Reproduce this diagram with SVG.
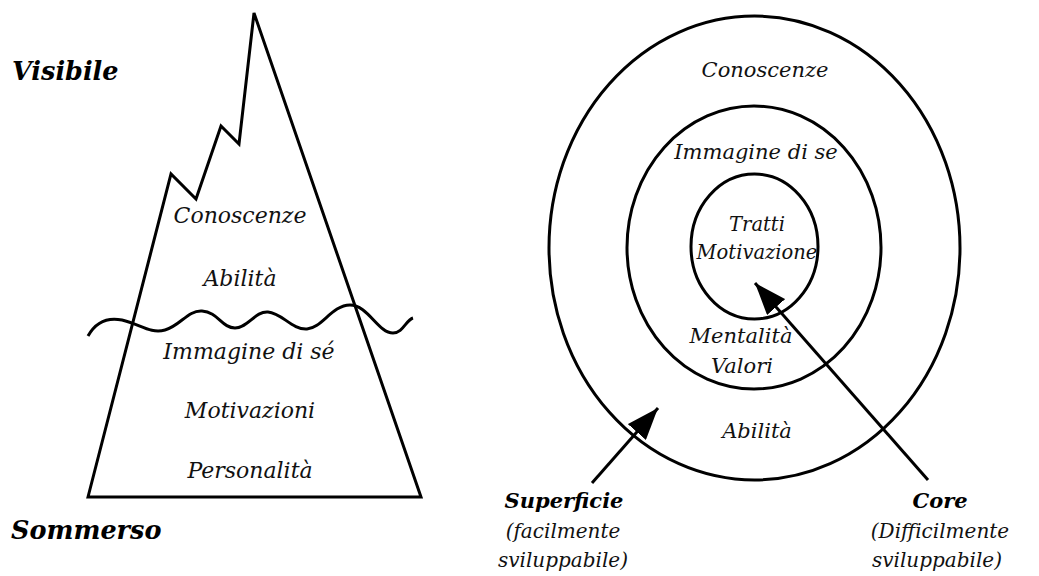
<svg xmlns="http://www.w3.org/2000/svg" width="1039" height="576" viewBox="0 0 1039 576">
<defs>
<style>
.ln{fill:none;stroke:#000;stroke-width:3;stroke-linejoin:miter}
.t{font-family:"DejaVu Serif","Liberation Serif",serif;font-style:italic;font-size:21px;fill:#111;text-anchor:middle}
.ti{font-size:22px}
.h{font-family:"DejaVu Serif","Liberation Serif",serif;font-style:italic;font-weight:bold;font-size:25.5px;fill:#000}
.hb{font-family:"DejaVu Serif","Liberation Serif",serif;font-style:italic;font-weight:bold;font-size:21px;fill:#000;text-anchor:middle}
</style>
<marker id="ah2" viewBox="0 0 32 24" refX="32" refY="12" markerWidth="32" markerHeight="24" markerUnits="userSpaceOnUse" orient="auto">
<path d="M0,0 L32,12 L0,24 Z" fill="#000"/>
</marker>
</defs>
<rect width="1039" height="576" fill="#fff"/>
<g id="iceberg">
<path class="ln" d="M88,497 L171,174 L196,199 L221,126 L239,144 L254,13 L421,497 Z"/>
<path id="water" class="ln" d="M88,336 C98,318 112,318 122,320 C140,324 150,334 165,330 C180,326 188,310 202,311 C218,312 222,328 235,328 C248,328 255,311 268,312 C282,313 292,330 307,329 C322,328 332,305 350,305 C368,305 378,333 393,333 C403,333 406,320 413,318"/>
</g>
<g id="label-visibile"><text class="h" x="12" y="80">Visibile</text></g>
<g id="label-sommerso"><text class="h" x="11" y="539">Sommerso</text></g>
<g id="iceberg-labels">
<text class="t ti" x="240" y="223">Conoscenze</text>
<text class="t ti" x="240" y="286">Abilità</text>
<text class="t ti" x="249" y="359">Immagine di sé</text>
<text class="t ti" x="250" y="418">Motivazioni</text>
<text class="t ti" x="250" y="478">Personalità</text>
</g>
<g id="outer-ring">
<ellipse class="ln" cx="754.5" cy="248" rx="205.5" ry="232"/>
<text class="t" x="765" y="77">Conoscenze</text>
<text class="t" x="757" y="438">Abilità</text>
</g>
<g id="middle-ring">
<ellipse class="ln" cx="754" cy="247.5" rx="127" ry="141.5"/>
<text class="t" x="756" y="159">Immagine di se</text>
<text class="t" x="741" y="343">Mentalità</text>
<text class="t" x="742" y="373">Valori</text>
</g>
<g id="inner-ring">
<ellipse class="ln" cx="754.5" cy="246.5" rx="63.5" ry="72.5"/>
<text class="t" x="757" y="231" style="font-size:19.5px">Tratti</text>
<text class="t" x="757" y="259" style="font-size:19.5px">Motivazione</text>
</g>
<g id="connectors">
<line x1="592" y1="483" x2="658" y2="408" stroke="#000" stroke-width="3" marker-end="url(#ah2)"/>
<line x1="928" y1="480" x2="755" y2="283" stroke="#000" stroke-width="3" marker-end="url(#ah2)"/>
</g>
<g id="label-superficie">
<text class="hb" x="564" y="508">Superficie</text>
<text class="t" x="563" y="538" style="font-size:20px">(facilmente</text>
<text class="t" x="563" y="567" style="font-size:20px">sviluppabile)</text>
</g>
<g id="label-core">
<text class="hb" x="940" y="508">Core</text>
<text class="t" x="940" y="538" style="font-size:20px">(Difficilmente</text>
<text class="t" x="937" y="567" style="font-size:20px">sviluppabile)</text>
</g>
</svg>
